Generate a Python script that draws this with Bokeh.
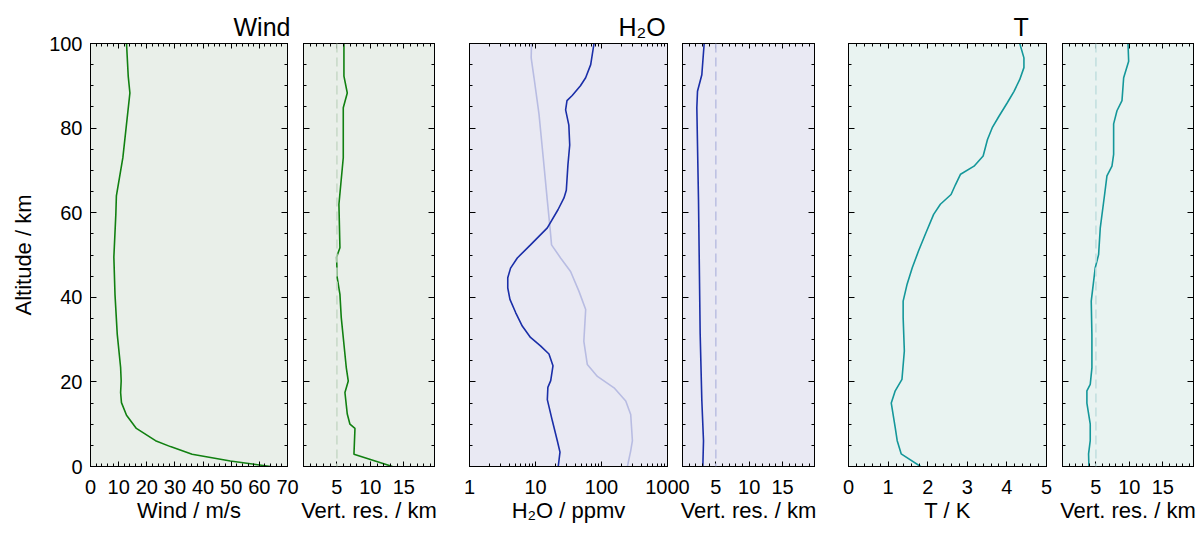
from bokeh.plotting import figure
from bokeh.layouts import row
from bokeh.models import Range1d, FixedTicker, LinearAxis, LogAxis, Span
from bokeh.embed import file_html
from bokeh.resources import INLINE

# ---------------- data ----------------
alt_ticks = [0, 20, 40, 60, 80, 100]
alt_minor = list(range(0, 101, 5))

wind_alt = [100, 92.3, 88.3, 73, 64, 59.6, 49.5, 40.7, 31.3, 23.4, 20.2, 17.5, 15.1, 12.1, 9.0, 6.1, 4.7, 2.9, 1.3, 0]
wind_err = [12.8, 13.4, 14.0, 11.5, 9.2, 9.0, 8.3, 8.7, 9.5, 10.7, 10.9, 10.7, 11.0, 12.8, 16.3, 23.1, 28.4, 36.1, 49.7, 64.0]

wind_res_alt = [100, 92.3, 88.3, 84.8, 73, 62, 51.7, 49.5, 44.6, 40.7, 35.2, 28.9, 23.4, 20.2, 17.5, 12.4, 10, 9, 2.9, 0]
wind_res = [6.05, 6.05, 6.55, 5.95, 5.95, 5.3, 5.45, 4.95, 5.05, 5.45, 5.65, 6.05, 6.4, 6.7, 6.2, 6.55, 6.95, 7.7, 7.55, 13.3]

h2o_alt = [100, 95, 91.9, 90, 87.7, 86.5, 84.3, 80.7, 76, 71.3, 65.3, 63.5, 60.7, 56.4, 52.4, 49.3, 46.9,
           44.6, 42.2, 39.5, 36.4, 33.2, 30.5, 28.5, 26.6, 23.8, 20.3, 18.7, 15.8, 10.8, 6.1, 3.4, 0]
h2o_err = [77, 68.6, 57.5, 48, 36, 30, 28.6, 32, 33, 31, 29.3, 27, 21.9, 15.1, 8.4, 5.3, 4.19,
           3.8, 3.8, 4.1, 5.0, 6.3, 8.4, 11.9, 16, 18.4, 17, 15.4, 15.1, 18, 21.4, 23.5, 22.1]

h2o_ref_alt = [100, 96.6, 91.9, 83.3, 73, 62.9, 56.4, 52.4, 49.3, 46.1, 41.4, 37.1, 29.6, 24.1, 21.3, 18.6, 15.5, 12.3, 6.1, 3.7, 0]
h2o_ref = [8.7, 8.6, 9.5, 11.3, 13.1, 15.1, 16.6, 17.5, 24, 34, 45.6, 57.6, 54, 61, 86.7, 155, 233, 277, 294, 277, 247]

h2o_res_alt = [100, 92.6, 88.7, 84.8, 63, 31.4, 15.6, 6.1, 0]
h2o_res = [3.25, 2.9, 2.25, 2.15, 2.4, 2.65, 2.9, 3.15, 3.05]

t_alt = [100, 96.6, 94.3, 91.5, 88.7, 86, 82.8, 80.1, 77.3, 73.4, 71, 69.1, 66.6, 64.3, 62, 59.6, 54.9,
         51, 47, 43.1, 39.1, 35.2, 27.3, 20.6, 17.9, 15, 9.2, 6.1, 3, 0]
t_err = [4.325, 4.43, 4.43, 4.325, 4.18, 4.01, 3.80, 3.63, 3.51, 3.40, 3.17, 2.83, 2.70, 2.59, 2.32, 2.15, 1.94,
         1.77, 1.61, 1.48, 1.38, 1.38, 1.41, 1.35, 1.18, 1.08, 1.18, 1.23, 1.33, 1.82]

t_res_alt = [100, 95.8, 91.9, 86.5, 84.1, 81, 73.8, 71, 68.7, 64.3, 56.4, 50.1, 47, 39.1, 31.2, 23.3, 19.4, 17.9, 15, 10, 6.1, 3, 0]
t_res = [9.8, 9.9, 9.15, 8.9, 8.15, 7.65, 7.65, 7.4, 6.65, 6.3, 5.65, 5.4, 4.9, 4.3, 4.4, 4.4, 4.15, 3.65, 3.65, 4.15, 4.15, 3.9, 3.95]

res_ticks = [5, 10, 15]
res_minor = list(range(0, 21))
wind_ticks = list(range(0, 71, 10))
wind_minor = list(range(0, 71, 2))
h2o_ticks = [1, 10, 100, 1000]
h2o_tick_labels = ["1", "10", "100", "1000"]
h2o_minor = [m * d for d in (1, 10, 100) for m in range(2, 10)]
t_ticks = [0, 1, 2, 3, 4, 5]
t_minor = [i / 5 for i in range(0, 26)]

titles = ["Wind", "H₂O", "T"]

# ---------------- styling / layout ----------------
W, H = 1203, 533          # every panel canvas covers the whole page; they are stacked
FONT = "Liberation Sans"
FRAME_TOP, FRAME_BOTTOM = 43, 466

GREEN_BG, BLUE_BG, TEAL_BG = "#e9efe9", "#e9e9f3", "#e9f3f1"
GREEN, BLUE, LIGHTBLUE, TEAL = "#118011", "#1a2ea8", "#b8bce2", "#14979a"


def style_axis(ax, ticks, minor, labels, is_x, label_text=None):
    ax.ticker = FixedTicker(ticks=ticks, minor_ticks=minor)
    ax.axis_line_color = "black"
    ax.axis_line_width = 1
    ax.major_tick_line_color = "black"
    ax.minor_tick_line_color = "black"
    ax.major_tick_out = 0
    ax.minor_tick_out = 0
    ax.major_tick_in = 5 if is_x else 6
    ax.minor_tick_in = 3
    ax.major_label_text_font = FONT
    ax.major_label_text_color = "black"
    if labels:
        ax.major_label_text_font_size = "20px"
        ax.major_label_standoff = 13 if is_x else 8
    else:
        ax.major_label_text_font_size = "1px"
        ax.major_label_overrides = {t: "" for t in ticks}
        ax.major_label_standoff = 0
    if label_text:
        ax.axis_label = label_text
        ax.axis_label_text_font = FONT
        ax.axis_label_text_font_size = "22px"
        ax.axis_label_text_font_style = "normal"
        ax.axis_label_text_color = "black"
        ax.axis_label_standoff = 1 if is_x else 10


def make_panel(x0, x1, xrange, bg, xticks, xminor, xlabel, log=False, ylabel=None):
    p = figure(width=W, height=H, x_range=xrange, y_range=Range1d(0, 100),
               x_axis_type="log" if log else "linear",
               output_backend="svg", toolbar_location=None,
               min_border_left=x0, min_border_right=W - x1,
               min_border_top=FRAME_TOP, min_border_bottom=H - FRAME_BOTTOM)
    p.border_fill_alpha = 0
    p.background_fill_color = bg
    p.outline_line_color = "black"
    p.grid.visible = False
    bottom = p.below[0]
    style_axis(bottom, xticks, xminor, True, True, xlabel)
    style_axis(p.left[0], alt_ticks, alt_minor, ylabel is not None, False, ylabel)
    top = LogAxis() if log else LinearAxis()
    style_axis(top, xticks, xminor, False, True)
    p.add_layout(top, "above")
    right = LinearAxis()
    style_axis(right, alt_ticks, alt_minor, False, False)
    p.add_layout(right, "right")
    return p, bottom


def set_title(p, text, left_px, x0):
    # group title, left edge placed at page pixel left_px (frame starts at x0)
    p.title.text = text
    p.title.align = "left"
    p.title.offset = left_px - x0
    p.title.text_font = FONT
    p.title.text_font_size = "25px"
    p.title.text_font_style = "normal"
    p.title.text_color = "black"
    p.title.standoff = 6


# Wind
p1, _ = make_panel(90, 287, Range1d(0, 70), GREEN_BG, wind_ticks, wind_minor, "Wind / m/s", ylabel="Altitude / km")
p1.line(wind_err, wind_alt, line_color=GREEN, line_width=1.6)
set_title(p1, titles[0], 233, 90)

p2, _ = make_panel(303, 434, Range1d(0, 19.6), GREEN_BG, res_ticks, res_minor, "Vert. res. / km")
p2.add_layout(Span(location=5, dimension="height", line_color="#c6d8c6", line_width=1.5, line_dash="9 5"))
p2.line(wind_res, wind_res_alt, line_color=GREEN, line_width=1.6)

# H2O
p3, p3_bottom = make_panel(469, 667, Range1d(1, 1000), BLUE_BG, h2o_ticks, h2o_minor, "H₂O / ppmv", log=True)
p3_bottom.major_label_overrides = dict(zip(h2o_ticks, h2o_tick_labels))
p3.line(h2o_ref, h2o_ref_alt, line_color=LIGHTBLUE, line_width=1.6)
p3.line(h2o_err, h2o_alt, line_color=BLUE, line_width=1.6)
set_title(p3, titles[1], 618, 469)

p4, _ = make_panel(682, 814, Range1d(0, 19.8), BLUE_BG, res_ticks, res_minor, "Vert. res. / km")
p4.add_layout(Span(location=5, dimension="height", line_color="#babee2", line_width=1.5, line_dash="9 5"))
p4.line(h2o_res, h2o_res_alt, line_color=BLUE, line_width=1.6)

# T
p5, _ = make_panel(848, 1046, Range1d(0, 5), TEAL_BG, t_ticks, t_minor, "T / K")
p5.line(t_err, t_alt, line_color=TEAL, line_width=1.6)
set_title(p5, titles[2], 1013, 848)

p6, _ = make_panel(1062, 1193, Range1d(0, 19.6), TEAL_BG, res_ticks, res_minor, "Vert. res. / km")
p6.add_layout(Span(location=5, dimension="height", line_color="#c0dfdf", line_width=1.5, line_dash="9 5"))
p6.line(t_res, t_res_alt, line_color=TEAL, line_width=1.6)

figs = [p1, p2, p3, p4, p5, p6]
for f in figs[1:]:
    f.margin = (0, 0, 0, -W)

layout = row(*figs)
layout.spacing = 0

open("out.html", "w").write(file_html(layout, INLINE))
